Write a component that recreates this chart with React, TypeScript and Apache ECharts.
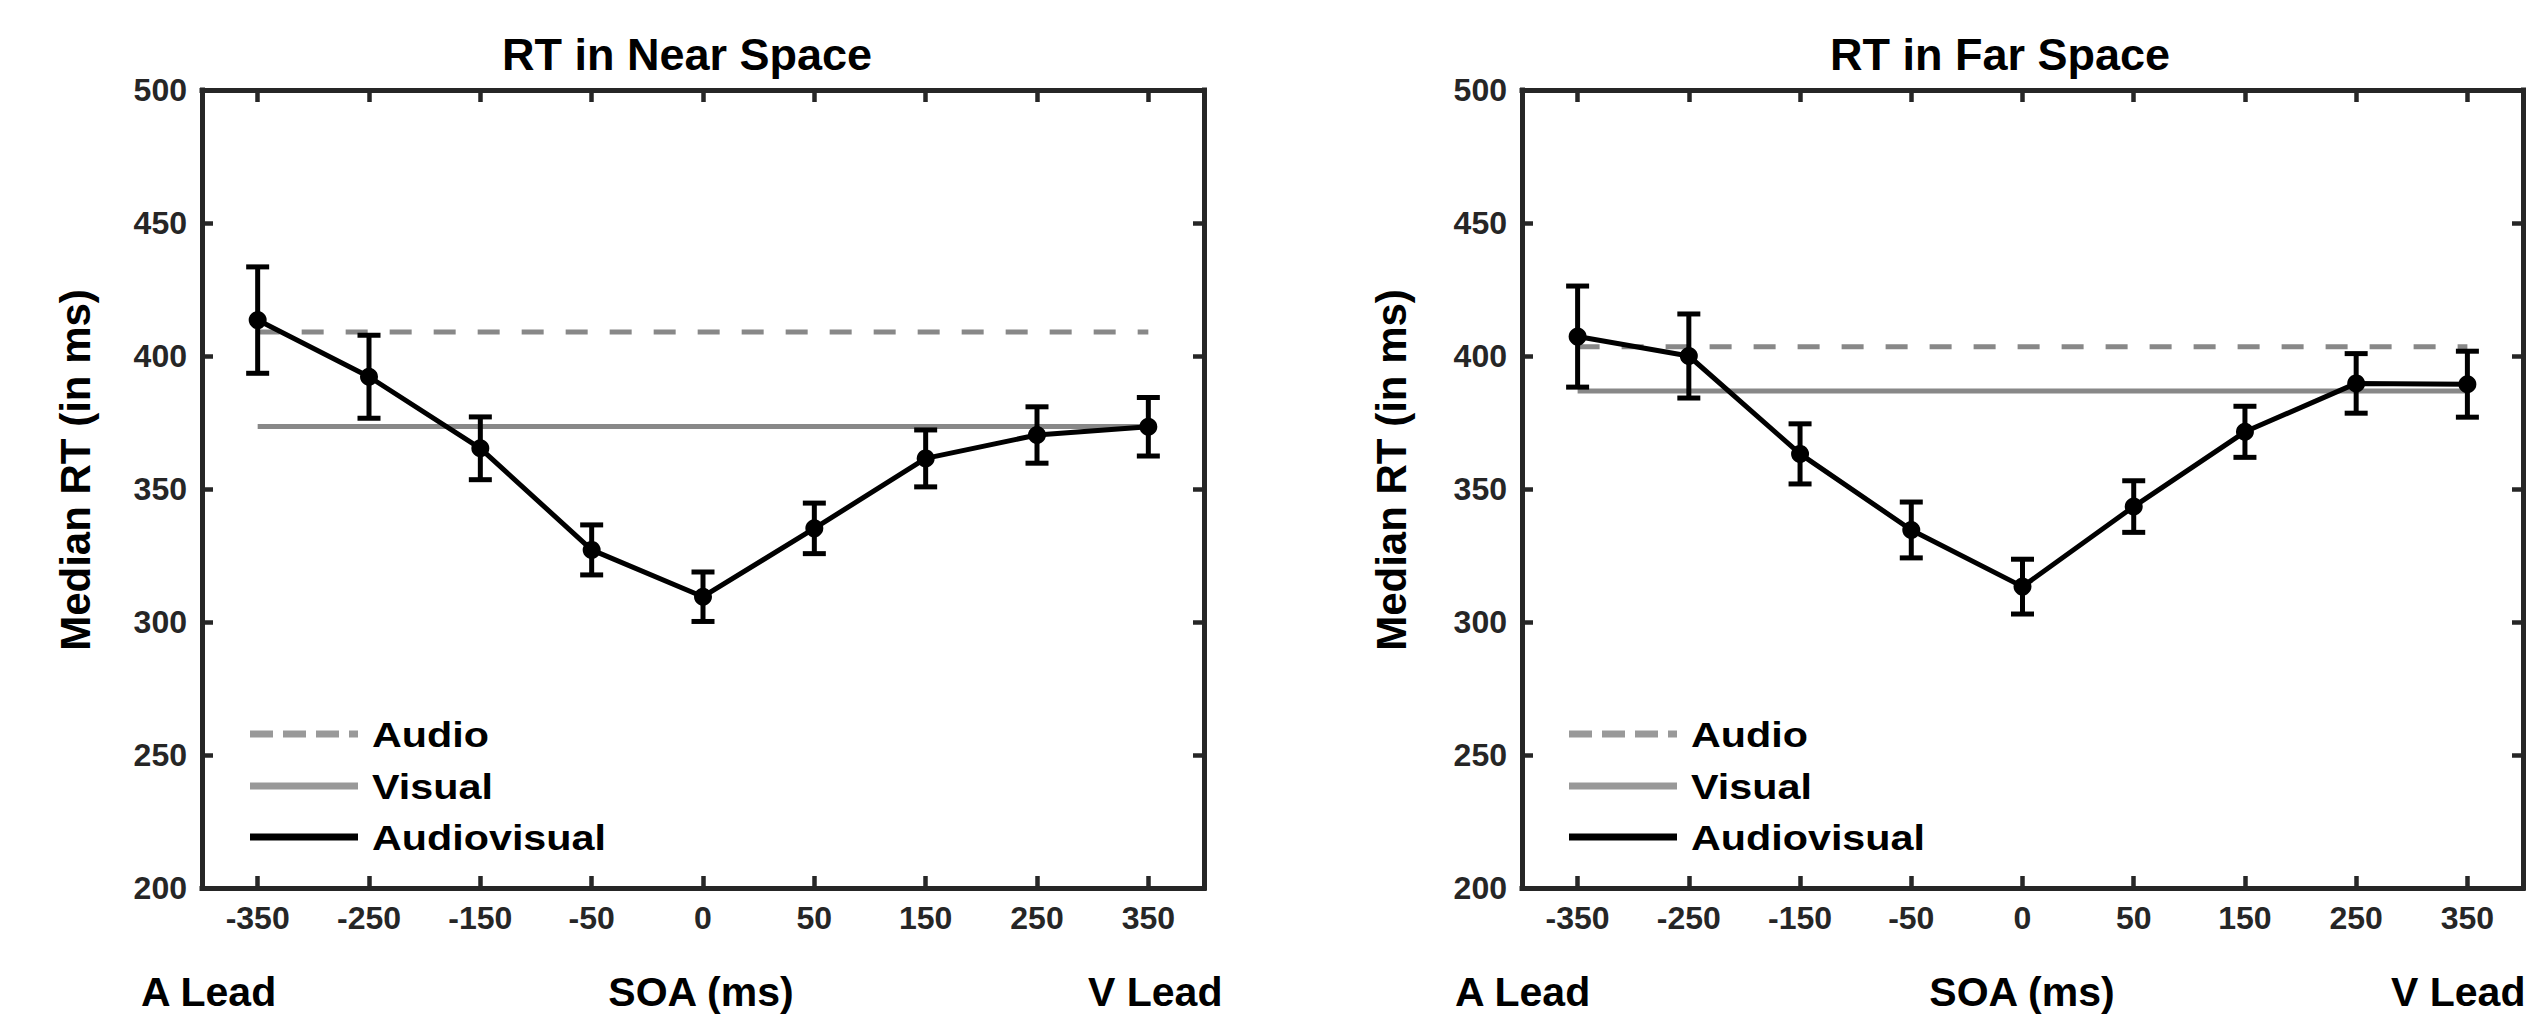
import React, { useEffect, useRef } from 'react';
import * as echarts from 'echarts';

// ---------- data ----------
const categories = ['-350', '-250', '-150', '-50', '0', '50', '150', '250', '350'];

const nearMeans = [413.5, 392.2, 365.3, 327.1, 309.5, 335.2, 361.5, 370.3, 373.4];
const nearErrors = [20, 15.6, 11.8, 9.4, 9.3, 9.5, 10.7, 10.6, 11];
const nearAudio = 409;
const nearVisual = 373.5;

const farMeans = [407.3, 400, 363.2, 334.6, 313.3, 343.4, 371.5, 389.7, 389.4];
const farErrors = [19, 15.8, 11.3, 10.5, 10.3, 9.7, 9.6, 11.2, 12.4];
const farAudio = 403.5;
const farVisual = 386.8;

const yMin = 200;
const yMax = 500;
const yStep = 50;

const titles = ['RT in Near Space', 'RT in Far Space'];
const yAxisTitle = 'Median RT (in ms)';
const xAxisTitle = 'SOA (ms)';
const leftEndLabel = 'A Lead';
const rightEndLabel = 'V Lead';
const legendLabels = ['Audio', 'Visual', 'Audiovisual'];

// ---------- layout / style ----------
const FONT = '"Liberation Sans", Arial, Helvetica, sans-serif';
const AXIS = '#262626';
const GRAY = '#888888';
const LEGEND_GRAY = '#999999';
const PLOT_TOP = 90;
const PLOT_H = 798;

const panels = [
  { left: 202, width: 1002, titleX: 687, yLabelX: 75, aLeadX: 141, soaX: 701, vLeadX: 1088, legendX: 250,
    means: nearMeans, errors: nearErrors, audio: nearAudio, visual: nearVisual },
  { left: 1522, width: 1001, titleX: 2000, yLabelX: 1391, aLeadX: 1455, soaX: 2022, vLeadX: 2391, legendX: 1569,
    means: farMeans, errors: farErrors, audio: farAudio, visual: farVisual },
];

function buildOption() {
  const grid: any[] = [];
  const xAxis: any[] = [];
  const yAxis: any[] = [];
  const series: any[] = [];
  const graphic: any[] = [];

  const axisLine = { show: true, onZero: false, lineStyle: { color: AXIS, width: 5, cap: 'square' } };
  const labelStyle = { color: AXIS, fontSize: 32, fontWeight: 'bold', fontFamily: FONT };

  panels.forEach((p, i) => {
    grid.push({ left: p.left, top: PLOT_TOP, width: p.width, height: PLOT_H, containLabel: false });

    ['bottom', 'top'].forEach((pos) => {
      xAxis.push({
        type: 'category',
        gridIndex: i,
        data: categories,
        boundaryGap: true,
        position: pos,
        axisLine,
        axisTick: { show: true, inside: true, alignWithLabel: true, interval: 0, length: 12,
          lineStyle: { color: AXIS, width: 4.5 } },
        axisLabel: { show: pos === 'bottom', interval: 0, margin: 14, ...labelStyle },
        splitLine: { show: false },
      });
    });

    ['left', 'right'].forEach((pos) => {
      yAxis.push({
        type: 'value',
        gridIndex: i,
        min: yMin,
        max: yMax,
        interval: yStep,
        position: pos,
        axisLine,
        axisTick: { show: true, inside: true, length: 11, lineStyle: { color: AXIS, width: 4.5 } },
        axisLabel: { show: pos === 'left', margin: 15, ...labelStyle },
        splitLine: { show: false },
      });
    });

    const xi = i * 2;
    const yi = i * 2;

    // error bars
    series.push({
      type: 'custom',
      name: 'err' + i,
      xAxisIndex: xi,
      yAxisIndex: yi,
      z: 3,
      data: p.means.map((m, k) => [k, m - p.errors[k], m + p.errors[k]]),
      encode: { x: 0, y: [1, 2] },
      renderItem: (params: any, api: any) => {
        const x = api.value(0);
        const top = api.coord([x, api.value(2)]);
        const bot = api.coord([x, api.value(1)]);
        const hw = 11.5;
        const st = { stroke: '#000', lineWidth: 5 };
        return {
          type: 'group',
          children: [
            { type: 'line', shape: { x1: top[0], y1: top[1], x2: bot[0], y2: bot[1] }, style: st },
            { type: 'line', shape: { x1: top[0] - hw, y1: top[1], x2: top[0] + hw, y2: top[1] }, style: st },
            { type: 'line', shape: { x1: bot[0] - hw, y1: bot[1], x2: bot[0] + hw, y2: bot[1] }, style: st },
          ],
        };
      },
    });

    // Audio (dashed) and Visual (solid) reference lines
    series.push({
      type: 'line',
      name: 'Audio',
      xAxisIndex: xi,
      yAxisIndex: yi,
      z: 2,
      symbol: 'none',
      data: [[categories[0], p.audio], [categories[categories.length - 1], p.audio]],
      lineStyle: { color: GRAY, width: 5, type: [22, 22] },
    });
    series.push({
      type: 'line',
      name: 'Visual',
      xAxisIndex: xi,
      yAxisIndex: yi,
      z: 2,
      symbol: 'none',
      data: [[categories[0], p.visual], [categories[categories.length - 1], p.visual]],
      lineStyle: { color: GRAY, width: 5 },
    });

    // Audiovisual
    series.push({
      type: 'line',
      name: 'Audiovisual',
      xAxisIndex: xi,
      yAxisIndex: yi,
      z: 4,
      symbol: 'circle',
      symbolSize: 18,
      showAllSymbol: true,
      data: p.means,
      itemStyle: { color: '#000' },
      lineStyle: { color: '#000', width: 5 },
    });

    // texts
    graphic.push({
      type: 'text', x: p.titleX, y: 54,
      style: { text: titles[i], fontSize: 45, fontWeight: 'bold', fontFamily: FONT, fill: '#000',
        align: 'center', verticalAlign: 'middle' },
    });
    graphic.push({
      type: 'text', x: p.yLabelX, y: 470, rotation: Math.PI / 2,
      style: { text: yAxisTitle, fontSize: 42, fontWeight: 'bold', fontFamily: FONT, fill: '#000',
        align: 'center', verticalAlign: 'middle' },
    });
    const bottomStyle = { fontSize: 41, fontWeight: 'bold', fontFamily: FONT, fill: '#000', verticalAlign: 'middle' };
    graphic.push({ type: 'text', x: p.aLeadX, y: 992, style: { ...bottomStyle, text: leftEndLabel, align: 'left' } });
    graphic.push({ type: 'text', x: p.soaX, y: 992, style: { ...bottomStyle, text: xAxisTitle, align: 'center' } });
    graphic.push({ type: 'text', x: p.vLeadX, y: 992, style: { ...bottomStyle, text: rightEndLabel, align: 'left' } });

    // legend
    const rowsY = [734, 786, 837];
    const legendStyles = [
      { stroke: LEGEND_GRAY, lineWidth: 7, lineDash: [23, 10] },
      { stroke: LEGEND_GRAY, lineWidth: 7 },
      { stroke: '#000', lineWidth: 7 },
    ];
    legendLabels.forEach((lab, k) => {
      graphic.push({
        type: 'line', z: 10,
        shape: { x1: p.legendX, y1: rowsY[k], x2: p.legendX + 108, y2: rowsY[k] },
        style: legendStyles[k],
      });
      graphic.push({
        type: 'text', z: 10, x: p.legendX + 122, y: rowsY[k] + 1, scaleX: 1.18,
        style: { text: lab, fontSize: 35, fontWeight: 'bold', fontFamily: FONT, fill: '#000',
          align: 'left', verticalAlign: 'middle' },
      });
    });
  });

  return {
    animation: false,
    backgroundColor: '#ffffff',
    grid,
    xAxis,
    yAxis,
    series,
    graphic,
  };
}

export default function App() {
  const ref = useRef<HTMLDivElement>(null);
  useEffect(() => {
    document.body.style.margin = '0';
    if (!ref.current) return;
    const chart = echarts.init(ref.current, null, { renderer: 'svg', width: 2528, height: 1017 });
    chart.setOption(buildOption() as any);
    return () => chart.dispose();
  }, []);
  return (
    <div
      ref={ref}
      style={{ position: 'fixed', left: 0, top: 0, width: 2528, height: 1017, background: '#fff' }}
    />
  );
}
